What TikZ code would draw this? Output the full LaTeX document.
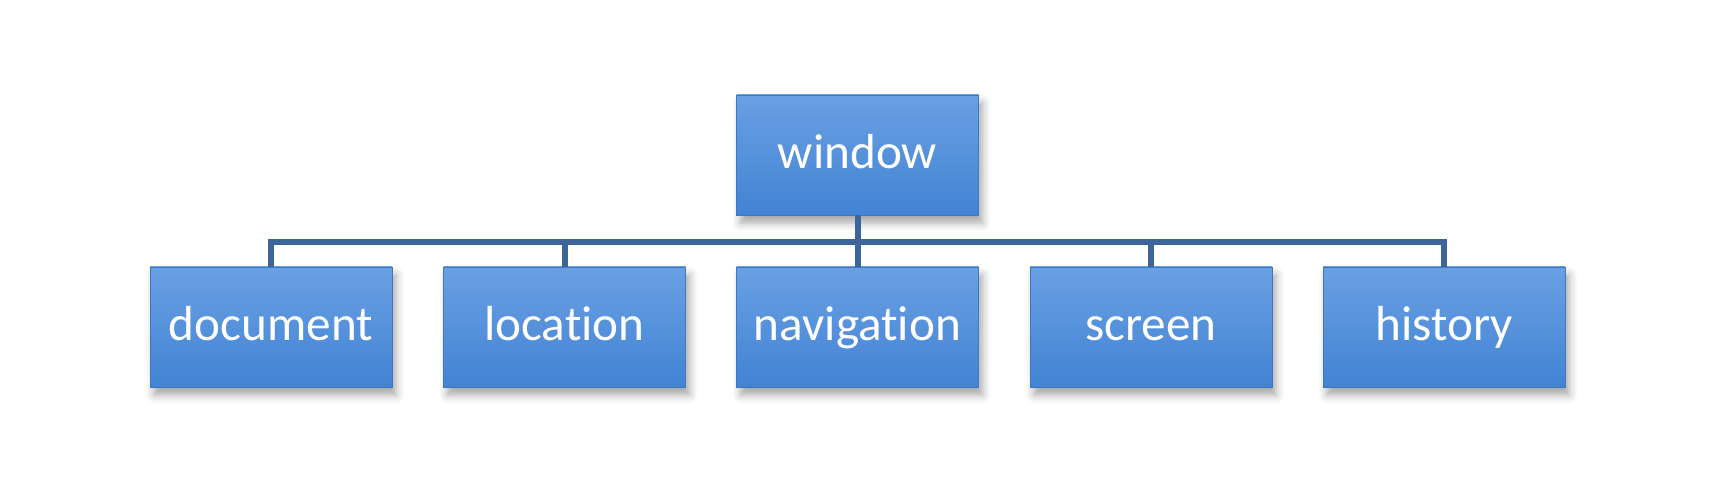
\documentclass[tikz,border=0pt]{standalone}
\usepackage{fontspec}
\setmainfont{Carlito}[Ligatures=NoCommon]
\usetikzlibrary{shadows.blur}
\definecolor{boxtop}{RGB}{106,160,227}
\definecolor{boxbot}{RGB}{66,131,212}
\definecolor{linkblue}{RGB}{60,102,154}
\tikzset{
  objbox/.style={rectangle,minimum width=121pt,minimum height=60pt,inner sep=0pt,
    text height=17pt,text depth=3pt,
    top color=boxtop,bottom color=boxbot,draw=boxbot!92!black,line width=0.4pt,
    text=white,font=\fontsize{24.6}{28}\selectfont,
    blur shadow={shadow xshift=2pt,shadow yshift=-4pt,shadow blur radius=4pt,shadow opacity=35}},
  link/.style={draw=linkblue,line width=3pt}
}

\begin{document}
\begin{tikzpicture}[x=0.5pt,y=-0.5pt]
      \useasboundingbox (0,0) rectangle (1711,491);
      % \fill[white] (0,0) rectangle (1711,491);
      \node[objbox] (window) at (857.5,155) {window};
      \node[objbox] (document) at (271,327) {document};
      \node[objbox] (location) at (564.5,327) {location};
      \node[objbox] (navigation) at (857.5,327) {navigation};
      \node[objbox] (screen) at (1151,327) {screen};
      \node[objbox] (history) at (1444,327) {history};

      \coordinate (bar) at (0,242);
      \draw[link] (window.south) -- (window.south |- bar);
      \draw[link] (document.north) -- (document.north |- bar) -- (history.north |- bar) -- (history.north);
      \draw[link] (location.north) -- (location.north |- bar);
      \draw[link] (navigation.north) -- (navigation.north |- bar);
      \draw[link] (screen.north) -- (screen.north |- bar);
   \end{tikzpicture}
\end{document}
